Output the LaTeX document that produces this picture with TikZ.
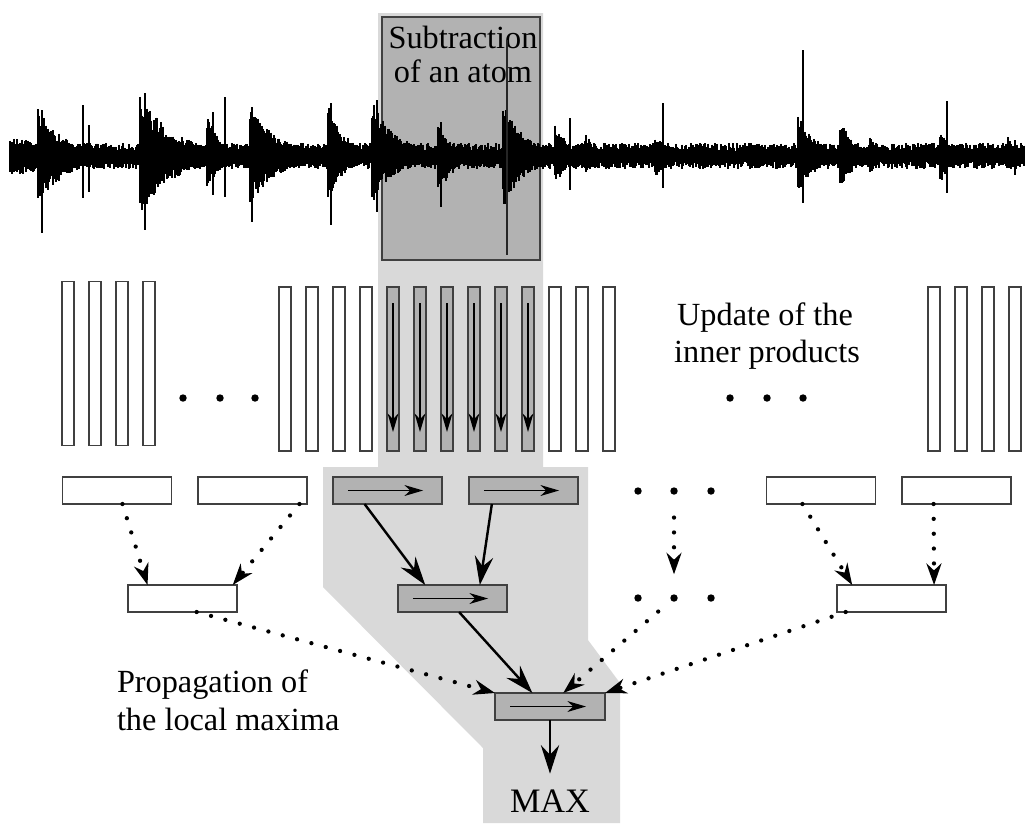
\documentclass[tikz,border=0pt]{standalone}
\usepackage{fontspec}
\setmainfont{Liberation Serif}
\usetikzlibrary{arrows.meta,calc}
\definecolor{bandgrey}{gray}{0.85}
\definecolor{boxgrey}{gray}{0.70}
\definecolor{edge}{gray}{0.25}
\begin{document}
\begin{tikzpicture}[x=0.35pt,y=-0.35pt,
  font=\fontsize{11.3}{13.6}\selectfont,
  every node/.style={inner sep=0pt, outer sep=0pt},
  wbar/.style={draw=edge, line width=0.55pt, fill=white, minimum width=4.2pt, minimum height=57.4pt},
  gbar/.style={wbar, fill=boxgrey},
  wbox/.style={draw=edge, line width=0.6pt, fill=white, minimum width=38.2pt, minimum height=9.45pt},
  gbox/.style={wbox, fill=boxgrey},
  dot/.style={circle, fill=black, minimum size=2.6pt},
  flow/.style={line width=0.85pt, -{Stealth[length=10pt,width=6.4pt,inset=3.4pt]}},
  prop/.style={line width=1.5pt, line cap=round, dash pattern=on 0pt off 5.2pt,
               -{Stealth[length=7.5pt,width=5.2pt,inset=2.4pt]}},
  upd/.style={line width=0.5pt, -{Stealth[length=6.5pt,width=3.8pt,inset=2pt]}},
  wave/.style={line width=0.7pt, black},
]
\useasboundingbox (0,0) rectangle (1026,823);

% highlighted path of one iteration
\fill[bandgrey] (378,13) -- (543,13) -- (543,467) -- (588,467) -- (588,640)
  -- (620,683) -- (620,823) -- (483,823) -- (483,748) -- (323,587)
  -- (323,467) -- (378,467) -- cycle;

% window of the atom being subtracted
\node[draw=edge, line width=0.7pt, fill=boxgrey, minimum width=55.3pt, minimum height=85pt]
  (atom) at (461,138.5) {};
\node[anchor=base] (sub1) at (463,48) {Subtraction};
\node[anchor=base] (sub2) at (463,82) {of an atom};

% the signal
\pgfmathsetseed{4}
\draw[wave] foreach \i in {10,...,1024} { (\i,{156-5-8*rnd}) -- (\i,{156+5+8*rnd}) };
\foreach \xo/\au/\ad/\tau/\len in {
  10/14/16/100/26, 38/45/52/24/75, 140/58/55/32/85, 207/40/30/12/30,
  250/46/45/26/75, 328/48/40/16/42, 372/52/45/22/50, 438/30/40/14/32,
  503/50/50/20/58, 555/35/30/10/25, 585/22/18/8/20, 655/20/20/10/30,
  700/15/15/8/25, 798/40/35/16/42, 840/35/30/13/38, 870/18/15/8/20,
  940/22/25/10/30, 1008/15/10/8/16}
{
  \draw[wave] foreach \k in {0,...,\len} {
    ({\xo+\k},{156-(4+\au*exp(-\k/\tau))*(0.55+0.45*rnd)}) --
    ({\xo+\k},{156+(4+\ad*exp(-\k/\tau))*(0.55+0.45*rnd)}) };
}
\foreach \xo/\t/\b in {42/110/233, 83/105/198, 89/125/192, 145/93/230,
  213/112/195, 225/97/197, 252/107/222, 331/103/225, 377/100/212,
  441/122/207, 570/118/190, 663/103/188, 803/50/203, 947/101/193, 1015/140/175}
  \draw[line width=0.6pt] (\xo,\t) -- (\xo,\b);
\draw[line width=0.55pt, black!85] (507,40) -- (507,255);

% inner products
\foreach \n/\x in {1/68,2/95,3/122,4/149}
  \node[wbar] (L\n) at (\x,363.5) {};
\foreach \n/\x in {1/285,2/312,3/339,4/366}
  \node[wbar] (M\n) at (\x,369) {};
\foreach \n/\x in {1/393,2/420,3/447,4/474,5/501,6/528}
  \node[gbar] (G\n) at (\x,369) {};
\foreach \n/\x in {1/555,2/582,3/609}
  \node[wbar] (W\n) at (\x,369) {};
\foreach \n/\x in {1/934,2/961,3/988,4/1015}
  \node[wbar] (R\n) at (\x,369) {};
\foreach \n in {1,...,6}
  \draw[upd] ($(G\n.north)+(0,16)$) -- ($(G\n.south)+(0,-19)$);

% ellipses
\foreach \n/\x in {1/183,2/220,3/255} \node[dot] (ea\n) at (\x,398) {};
\foreach \n/\x in {1/730,2/767,3/803} \node[dot] (eb\n) at (\x,398) {};
\foreach \n/\x in {1/638,2/674,3/711} \node[dot] (ec\n) at (\x,491) {};
\foreach \n/\x in {1/638,2/674,3/711} \node[dot] (ed\n) at (\x,598) {};

% local maxima, first level
\node[wbox] (A1) at (117,490.5) {};
\node[wbox] (A2) at (252.5,490.5) {};
\node[gbox] (A3) at (387.5,490.5) {};
\node[gbox] (A4) at (523.5,490.5) {};
\node[wbox] (A5) at (821,490.5) {};
\node[wbox] (A6) at (956.5,490.5) {};
% second level
\node[wbox] (B1) at (182.5,598.5) {};
\node[gbox] (B2) at (452.5,598.5) {};
\node[wbox] (B3) at (891.5,598.5) {};
% global maximum
\node[gbox, minimum width=38.5pt] (C) at (550,706.5) {};

\foreach \b in {A3,A4,B2,C}
  \draw[upd] ($(\b.west)+(15,0)$) -- ($(\b.east)+(-19,0)$);

% propagation
\draw[prop] ($(A1.south west)!0.55!(A1.south east)$) -- ($(B1.north west)!0.18!(B1.north east)$);
\draw[prop] ($(A2.south west)!0.93!(A2.south east)$) -- ($(B1.north west)!0.96!(B1.north east)$);
\draw[flow] ($(A3.south west)!0.29!(A3.south east)$) -- ($(B2.north west)!0.25!(B2.north east)$);
\draw[flow] ($(A4.south west)!0.21!(A4.south east)$) -- ($(B2.north west)!0.75!(B2.north east)$);
\draw[prop] ($(A5.south west)!0.33!(A5.south east)$) -- ($(B3.north west)!0.14!(B3.north east)$);
\draw[prop] ($(A6.south west)!0.29!(A6.south east)$) -- ($(B3.north west)!0.89!(B3.north east)$);
\draw[prop, shorten <=8pt, shorten >=7pt] (ec2) -- (ed2);

\draw[prop] ($(B1.south west)!0.63!(B1.south east)$) -- (C.north west);
\draw[flow] ($(B2.south west)!0.56!(B2.south east)$) -- ($(C.north west)!0.34!(C.north east)$);
\draw[prop, shorten <=6pt] (ed2) -- ($(C.north west)!0.62!(C.north east)$);
\draw[prop] ($(B3.south west)!0.08!(B3.south east)$) -- (C.north east);

\node[anchor=base, font=\fontsize{12}{14}\selectfont] (max) at (550,812) {MAX};
\draw[flow, shorten >=5.5pt] (C.south) -- (max.north);

% labels
\node[anchor=base] (upd1) at (765,325) {Update of the};
\node[anchor=base] (upd2) at (767,362) {inner products};
\node[anchor=base west] (prop1) at (117,692) {Propagation of};
\node[anchor=base west] (prop2) at (117,730) {the local maxima};
\end{tikzpicture}
\end{document}
